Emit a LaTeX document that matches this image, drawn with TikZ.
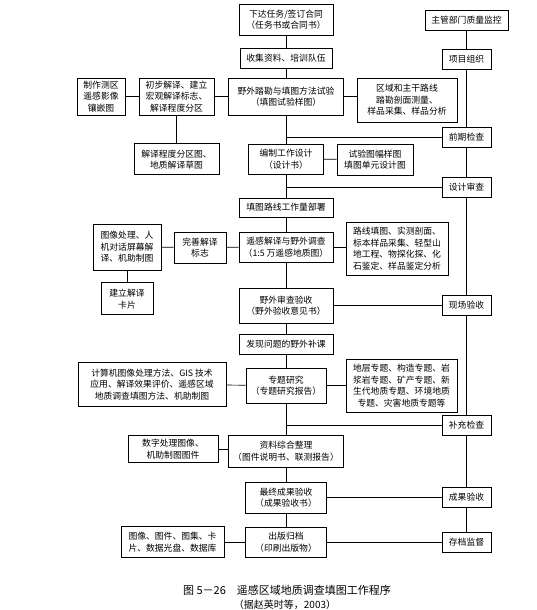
\documentclass[tikz,border=0pt]{standalone}
\usepackage{fontspec}
\setmainfont{Noto Sans CJK SC}
\usetikzlibrary{positioning}

\tikzset{
  box/.style={draw,line width=0.9pt,inner sep=1pt,align=center,font=\fontsize{8.8}{11.5}\selectfont},
  check/.style={box,minimum width=49,minimum height=20},
  link/.style={line width=0.7pt}
}

\begin{document}
\begin{tikzpicture}[x=1pt,y=-1pt]
\useasboundingbox[fill=white] (0,0) rectangle (536,610);
\node[box,minimum width=94,minimum height=31] (task) at (286,19.5) {下达任务/签订合同\\（任务书或合同书）};
\node[box,minimum width=92,minimum height=20] (collect) at (286,58) {收集资料、培训队伍};
\node[box,minimum width=115,minimum height=37] (trial) at (286,96.5) {野外踏勘与填图方法试验\\（填图试验样图）};
\node[box,minimum width=100,minimum height=44] (route) at (407,100) {区域和主干路线\\踏勘剖面测量、\\样品采集、样品分析};
\node[box,minimum width=48,minimum height=37] (mosaic) at (101,96.5) {制作测区\\遥感影像\\镶嵌图};
\node[box,minimum width=75,minimum height=37] (prelim) at (176.5,96.5) {初步解译、建立\\宏观解译标志、\\解译程度分区};
\node[box,minimum width=85,minimum height=31,below=28pt of prelim] (zoning) {解译程度分区图、\\地质解译草图};
\node[box,minimum width=75,minimum height=30] (design) at (286,159) {编制工作设计\\（设计书）};
\node[box,minimum width=76,minimum height=31] (sample) at (375,159.5) {试验图幅样图\\填图单元设计图};
\node[box,minimum width=94,minimum height=19] (deploy) at (286,207.5) {填图路线工作量部署};
\node[box,minimum width=94,minimum height=30] (survey) at (286,247) {遥感解译与野外调查\\（1:5 万遥感地质图）};
\node[box,minimum width=102,minimum height=53] (fieldwork) at (397,248.5) {路线填图、实测剖面、\\标本样品采集、轻型山\\地工程、物探化探、化\\石鉴定、样品鉴定分析};
\node[box,minimum width=52,minimum height=31] (refine) at (200,247.5) {完善解译\\标志};
\node[box,minimum width=68,minimum height=46] (imgproc) at (127,247) {图像处理、人\\机对话屏幕解\\译、机助制图};
\node[box,minimum width=52,minimum height=32,below=12pt of imgproc] (card) {建立解译\\卡片};
\node[box,minimum width=94,minimum height=35] (accept) at (286,305.5) {野外审查验收\\（野外验收意见书）};
\node[box,minimum width=94,minimum height=20] (makeup) at (286,344) {发现问题的野外补课};
\node[box,minimum width=80,minimum height=35] (topic) at (286,385.5) {专题研究\\（专题研究报告）};
\node[box,minimum width=148,minimum height=44] (method) at (152,384.5) {计算机图像处理方法、GIS 技术\\应用、解译效果评价、遥感区域\\地质调查填图方法、机助制图};
\node[box,minimum width=111,minimum height=53] (themes) at (401.5,385.5) {地层专题、构造专题、岩\\浆岩专题、矿产专题、新\\生代地质专题、环境地质\\专题、灾害地质专题等};
\node[box,minimum width=115,minimum height=32] (compile) at (286,451) {资料综合整理\\（图件说明书、联测报告）};
\node[box,minimum width=90,minimum height=27] (digital) at (173,449) {数字处理图像、\\机助制图图件};
\node[box,minimum width=81,minimum height=31] (final) at (286,497.5) {最终成果验收\\（成果验收书）};
\node[box,minimum width=81,minimum height=30] (publish) at (286,542) {出版归档\\（印刷出版物）};
\node[box,minimum width=103,minimum height=31] (products) at (172.5,542) {图像、图件、图集、卡\\片、数据光盘、数据库};

\node[check,minimum width=83] (supervise) at (466.5,20) {主管部门质量监控};
\node[check] (org) at (466.5,59) {项目组织};
\node[check] (early) at (466.5,137) {前期检查};
\node[check] (review) at (466.5,187) {设计审查};
\node[check] (onsite) at (466.5,305) {现场验收};
\node[check] (supplement) at (466.5,425) {补充检查};
\node[check] (result) at (466.5,497.5) {成果验收};
\node[check] (archive) at (466.5,542) {存档监督};

\draw[link] (task) -- (collect) -- (trial) -- (design) -- (deploy) -- (survey) -- (accept) -- (makeup) -- (topic) -- (compile) -- (final) -- (publish);
\draw[link] (supervise) -- (org) -- (early) -- (review) -- (onsite) -- (supplement) -- (result) -- (archive);
\draw[link] (mosaic) -- (prelim);
\draw[link] (prelim) -- (trial);
\draw[link] (trial.east) -- (trial.east -| route.west);
\draw[link] (prelim) -- (zoning);
\draw[link] (early) -- (early -| design);
\draw[link] (design) -- (sample);
\draw[link] (review) -- (review -| deploy);
\draw[link] (imgproc) -- (refine);
\draw[link] (refine) -- (survey);
\draw[link] (survey.east) -- (survey.east -| fieldwork.west);
\draw[link] (imgproc) -- (card);
\draw[link] (accept.east) -- (accept.east -| onsite.west);
\draw[link] (method) -- (topic);
\draw[link] (topic) -- (themes);
\draw[link] (supplement) -- (supplement -| compile);
\draw[link] (digital.east) -- (digital.east -| compile.west);
\draw[link] (final) -- (result);
\draw[link] (products) -- (publish);
\draw[link] (publish) -- (archive);

\node[font=\fontsize{11}{13}\selectfont] (caption) at (287,590) {图 5－26\quad 遥感区域地质调查填图工作程序};
\node[font=\fontsize{10}{12}\selectfont] (source) at (285,605) {（据赵英时等，2003）};
\end{tikzpicture}
\end{document}
